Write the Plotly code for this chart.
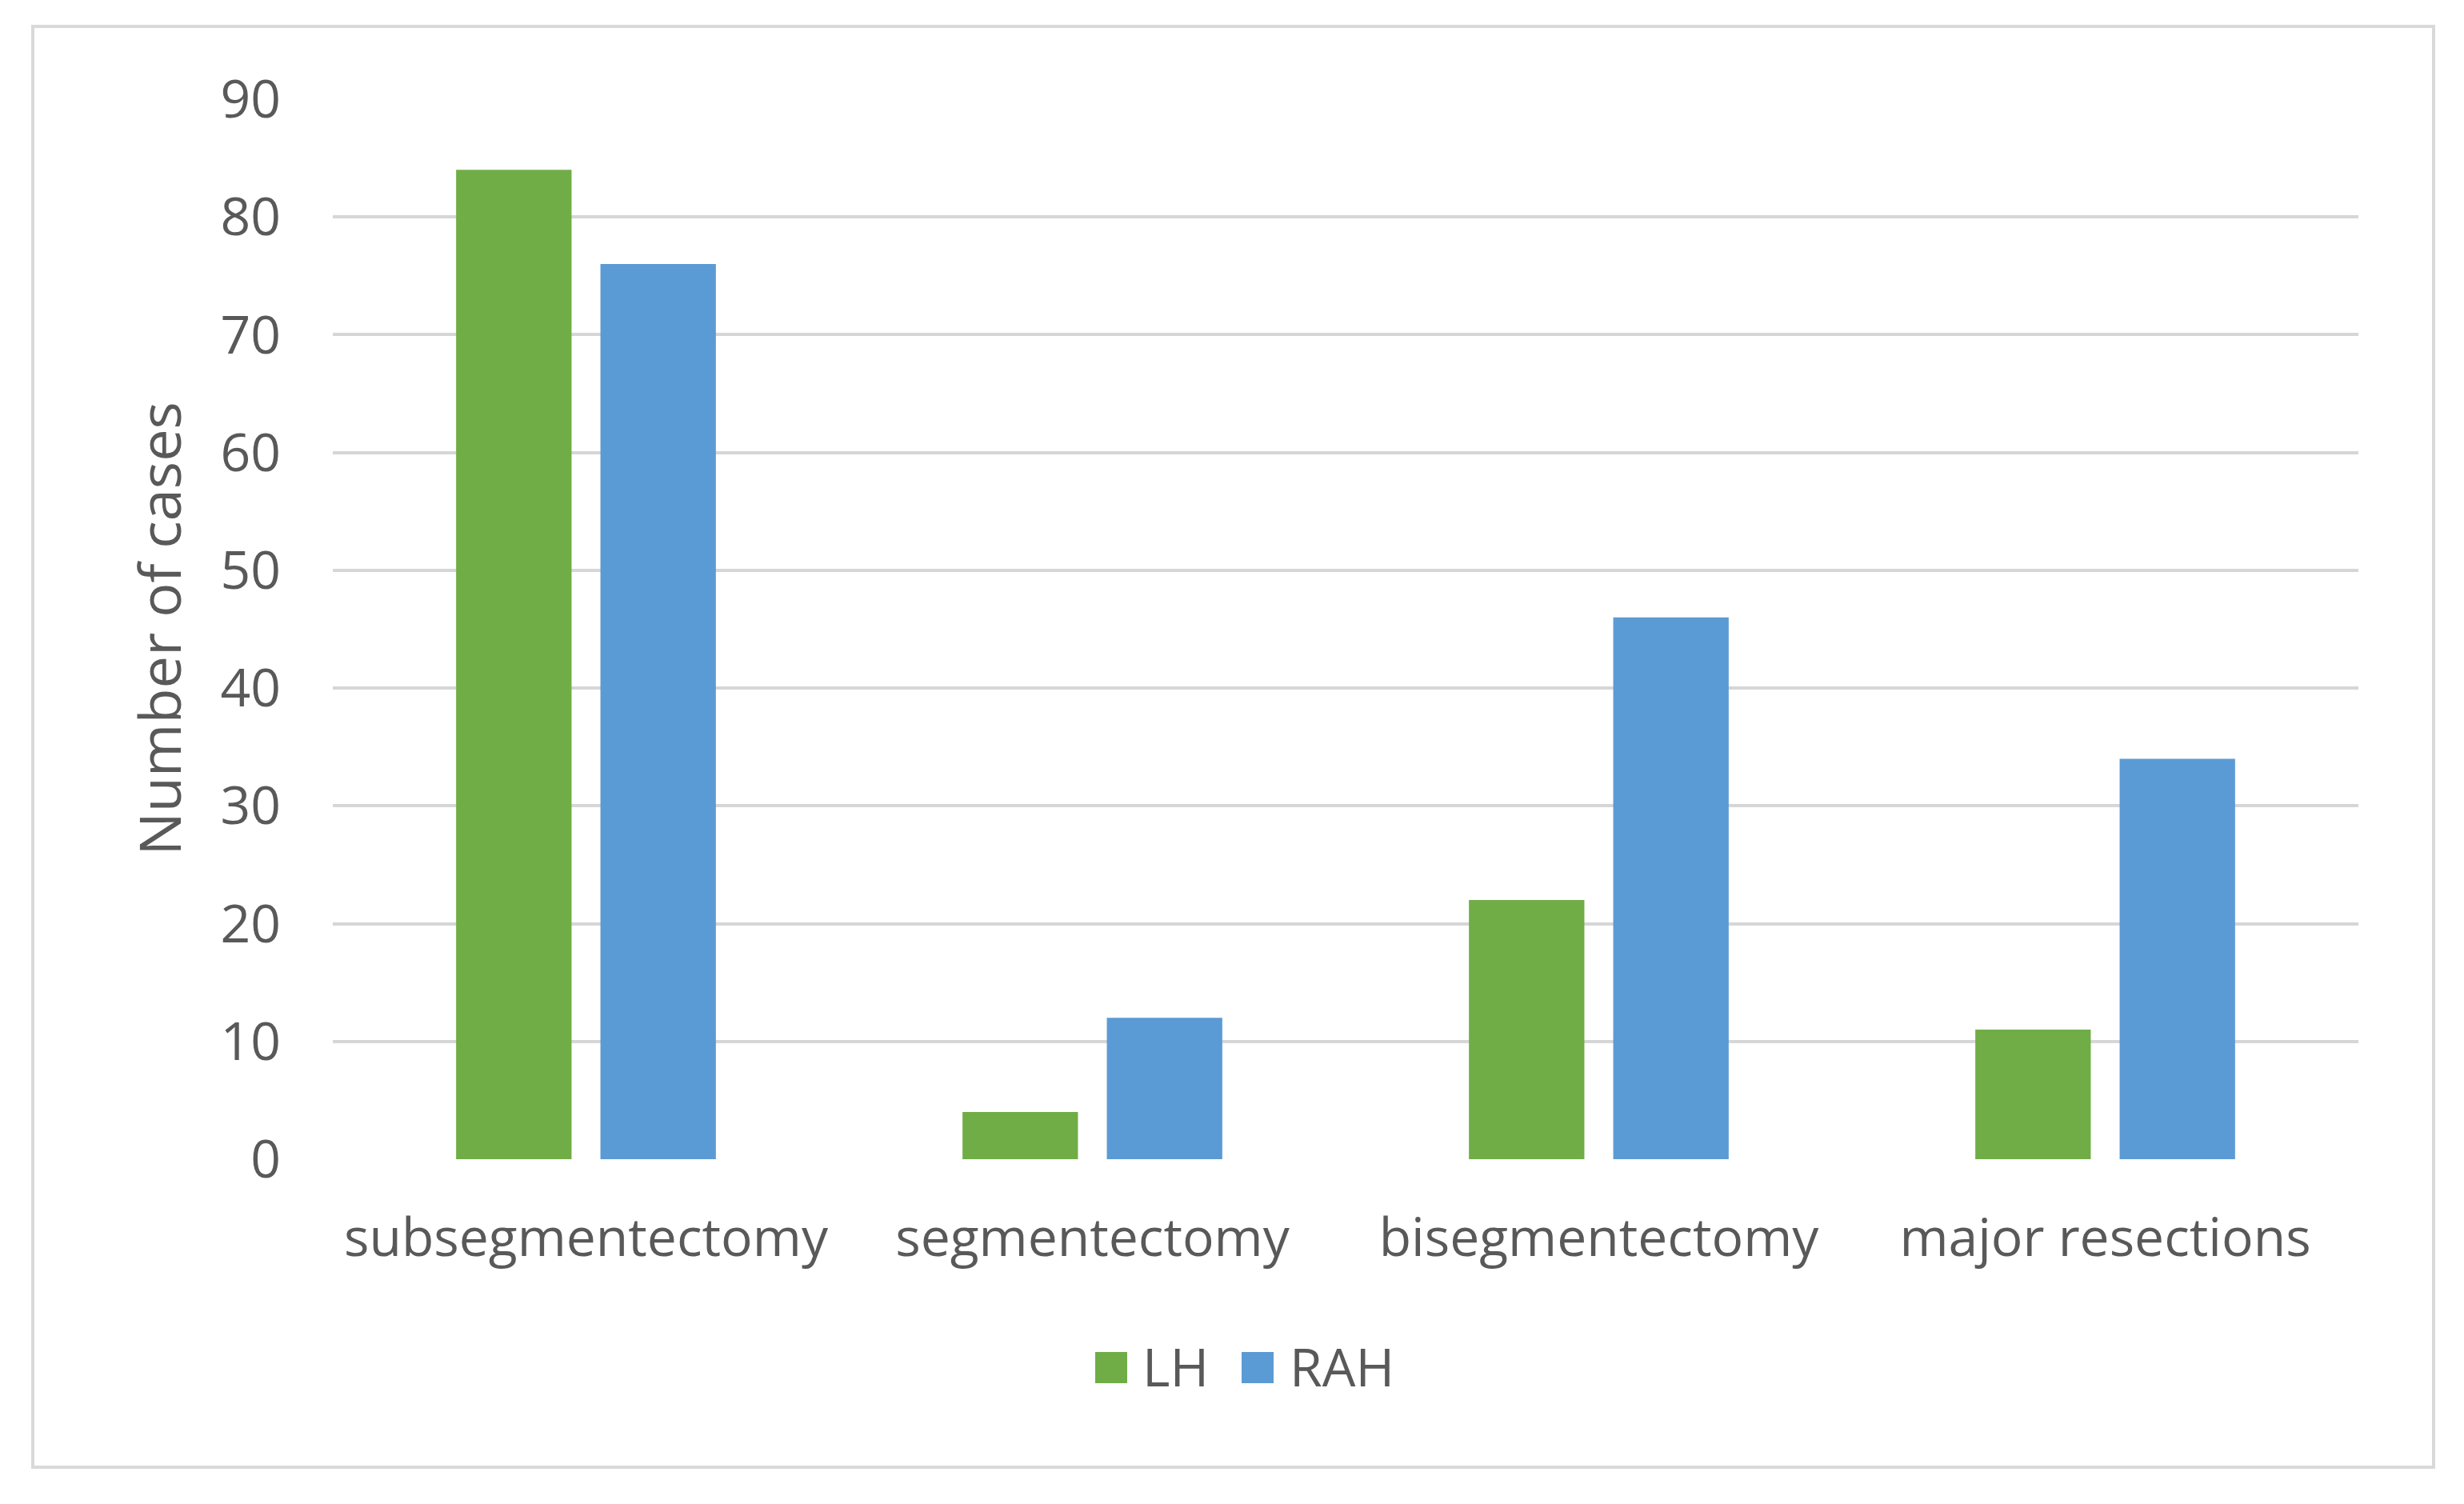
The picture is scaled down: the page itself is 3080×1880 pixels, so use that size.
import plotly.graph_objects as go

categories = ["subsegmentectomy", "segmentectomy", "bisegmentectomy", "major resections"]
series_names = ["LH", "RAH"]
lh_values = [84, 4, 22, 11]
rah_values = [76, 12, 46, 34]
y_ticks = [0, 10, 20, 30, 40, 50, 60, 70, 80, 90]
y_title = "Number of cases"

colors = ["#70AD47", "#5B9BD5"]
FONT = "Open Sans"
TXT = "#595959"
OFF = 8  # page body margin
W, H = 3080 - OFF, 1880 - OFF
L, R, T, B = 416 - OFF, 132, 124 - OFF, 431
PW, PH = W - L - R, H - T - B


def px(x):
    # x in page pixels -> paper coords
    return (x - OFF - L) / PW


def py(y):
    return (H - B - (y - OFF)) / PH


fig = go.Figure()
for name, vals, col in zip(series_names, [lh_values, rah_values], colors):
    fig.add_trace(go.Bar(x=categories, y=vals, name=name, marker=dict(color=col, line=dict(width=0)),
                         showlegend=False))

fig.update_layout(
    width=W, height=H,
    margin=dict(l=L, r=R, t=T, b=B),
    paper_bgcolor="white", plot_bgcolor="white",
    barmode="group", bargap=0.43, bargroupgap=0.2,
    font=dict(family=FONT, size=66, color=TXT),
)
fig.update_xaxes(showgrid=False, showline=False, zeroline=False, ticks="",
                 tickfont=dict(family=FONT, size=66, color=TXT), ticklabelstandoff=54)
fig.update_yaxes(range=[0, 90], tickvals=y_ticks, showgrid=True, gridcolor="#d6d6d6", gridwidth=4,
                 zeroline=False, showline=False, ticks="",
                 tickfont=dict(family=FONT, size=66, color=TXT), ticklabelstandoff=64)

# y-axis title
fig.add_annotation(text=y_title, xref="paper", yref="paper", x=px(197), y=0.5, textangle=-90,
                   showarrow=False, font=dict(family=FONT, size=72, color=TXT),
                   xanchor="center", yanchor="middle")

# outer chart border
fig.add_shape(type="rect", xref="paper", yref="paper", x0=px(41), x1=px(3042), y0=py(1834), y1=py(33),
              line=dict(color="#d9d9d9", width=4), fillcolor="rgba(0,0,0,0)", layer="below")

# legend (manual, centered on chart area)
leg_y0, leg_y1 = 1690, 1729
sq_x = [1369, 1552]
txt_x = [1426, 1610]
for name, col, sx, tx in zip(series_names, colors, sq_x, txt_x):
    fig.add_shape(type="rect", xref="paper", yref="paper", x0=px(sx), x1=px(sx + 40),
                  y0=py(leg_y1), y1=py(leg_y0), fillcolor=col, line=dict(width=0))
    fig.add_annotation(text=name, xref="paper", yref="paper", x=px(tx), y=py((leg_y0 + leg_y1) / 2 - 3),
                       xanchor="left", yanchor="middle", showarrow=False,
                       font=dict(family=FONT, size=66, color=TXT))

fig.write_html("out.html")
